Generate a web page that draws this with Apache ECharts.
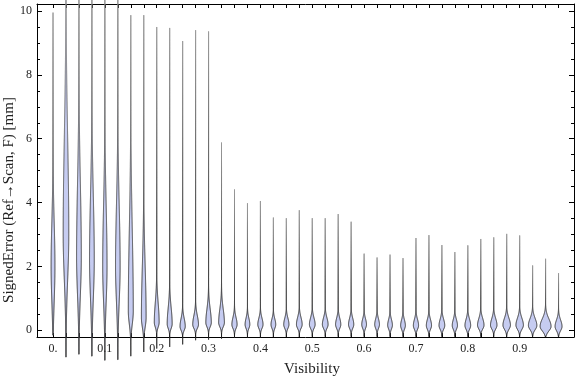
<!DOCTYPE html>
<html>
<head>
<meta charset="utf-8">
<script src="https://cdn.jsdelivr.net/npm/echarts@6/dist/echarts.min.js"></script>
<style>
html,body{margin:0;padding:0;background:#fff;}
#chart{width:576px;height:377px;}
</style>
</head>
<body>
<div id="chart"></div>
<script>
// ---- data ----
const visibility = [0, 0.025, 0.05, 0.075, 0.1, 0.125, 0.15, 0.175, 0.2, 0.225,
  0.25, 0.275, 0.3, 0.325, 0.35, 0.375, 0.4, 0.425, 0.45, 0.475,
  0.5, 0.525, 0.55, 0.575, 0.6, 0.625, 0.65, 0.675, 0.7, 0.725,
  0.75, 0.775, 0.8, 0.825, 0.85, 0.875, 0.9, 0.925, 0.95, 0.975];
// minimum signed error of each distribution
const lowVals = [-0.15, -0.84, -0.75, -0.81, -0.94, -0.92, -0.81, -0.68, -0.57, -0.52,
  -0.44, -0.31, -0.29, -0.26, -0.23, -0.22, -0.22, -0.21, -0.21, -0.21,
  -0.2, -0.2, -0.2, -0.2, -0.2, -0.2, -0.2, -0.2, -0.2, -0.2,
  -0.2, -0.2, -0.2, -0.2, -0.2, -0.2, -0.2, -0.2, -0.2, -0.2];
// maximum signed error of each distribution
const highVals = [9.95, 11.5, 11.5, 11.5, 11.5, 11.5, 9.87, 9.87, 9.5, 9.47,
  9.06, 9.4, 9.36, 5.88, 4.41, 3.98, 4.05, 3.53, 3.51, 3.76,
  3.51, 3.51, 3.64, 3.4, 2.4, 2.28, 2.37, 2.26, 2.89, 2.98,
  2.67, 2.45, 2.66, 2.86, 2.91, 3.02, 2.97, 2.03, 2.24, 1.79];
// location of the density peak
const modeVals = [2.0, 3.0, 2.3, 2.2, 2.0, 2.0, 0.6, 0.4, 0.25, 0.2,
  0.12, 0.18, 0.24, 0.24, 0.18, 0.18, 0.18, 0.18, 0.18, 0.18,
  0.18, 0.18, 0.18, 0.18, 0.18, 0.18, 0.16, 0.15, 0.15, 0.15,
  0.15, 0.15, 0.15, 0.16, 0.16, 0.16, 0.16, 0.15, 0.12, 0.12];
// relative peak density (1 = widest possible violin)
const peakVals = [0.31, 0.45, 0.38, 0.38, 0.35, 0.37, 0.40, 0.38, 0.39, 0.40,
  0.42, 0.46, 0.44, 0.46, 0.42, 0.38, 0.42, 0.38, 0.42, 0.46,
  0.46, 0.46, 0.42, 0.42, 0.38, 0.38, 0.38, 0.38, 0.42, 0.42,
  0.46, 0.42, 0.46, 0.52, 0.52, 0.6, 0.6, 0.68, 0.88, 0.56];
// spread of the density below / above the peak
const lowerSpread = [1.1, 1.4, 1.2, 1.2, 1.1, 1.1, 0.4, 0.3, 0.15, 0.14,
  0.12, 0.12, 0.13, 0.13, 0.12, 0.12, 0.12, 0.12, 0.12, 0.12,
  0.12, 0.12, 0.12, 0.12, 0.12, 0.12, 0.12, 0.12, 0.12, 0.12,
  0.12, 0.12, 0.12, 0.12, 0.12, 0.13, 0.13, 0.13, 0.14, 0.13];
const upperSpread = [1.4, 3.0, 2.3, 2.0, 1.9, 1.9, 2.5, 1.6, 0.6, 0.5,
  0.25, 0.28, 0.42, 0.42, 0.22, 0.2, 0.2, 0.18, 0.2, 0.22,
  0.21, 0.21, 0.2, 0.2, 0.18, 0.18, 0.18, 0.18, 0.19, 0.19,
  0.2, 0.19, 0.2, 0.21, 0.21, 0.22, 0.22, 0.22, 0.24, 0.2];

const xTickValues = [0, 0.1, 0.2, 0.3, 0.4, 0.5, 0.6, 0.7, 0.8, 0.9];
const xTickLabels = ['0.', '0.1', '0.2', '0.3', '0.4', '0.5', '0.6', '0.7', '0.8', '0.9'];
const yTickValues = [0, 2, 4, 6, 8, 10];
const yTickLabels = ['0', '2', '4', '6', '8', '10'];
const yMinorTicks = [0, 0.5, 1, 1.5, 2, 2.5, 3, 3.5, 4, 4.5, 5, 5.5, 6, 6.5, 7, 7.5, 8, 8.5, 9, 9.5, 10];

// ---- layout / style ----
const X_MIN = -0.0309, X_MAX = 1.0048;
const Y_MIN = -0.21, Y_MAX = 10.22;
const MAX_HALF_WIDTH = 0.0120; // x-units
const FONT = '"Liberation Serif", "DejaVu Serif", serif';

const seriesData = visibility.map((v, i) => [v, lowVals[i], highVals[i], modeVals[i], peakVals[i], lowerSpread[i], upperSpread[i]]);

function renderViolin(params, api) {
  const x = api.value(0), lo = api.value(1), hi = api.value(2), m = api.value(3);
  const pk = api.value(4), sL = api.value(5), sU = api.value(6);
  const pxPerUnit = api.size([1, 0])[0];
  const n = Math.ceil((hi - lo) / 0.01);
  const right = [], left = [];
  for (let i = 0; i <= n; i++) {
    const y = lo + (hi - lo) * i / n;
    const s = y < m ? sL : sU;
    const d = Math.exp(-0.5 * Math.pow((y - m) / s, 2));
    const hw = pk * MAX_HALF_WIDTH * d * pxPerUnit;
    const p = api.coord([x, y]);
    right.push([p[0] + hw, p[1]]);
    left.push([p[0] - hw, p[1]]);
  }
  const points = right.concat(left.reverse());
  return {
    type: 'polygon',
    shape: { points: points },
    style: {
      fill: '#c6ccf1',
      stroke: { type: 'linear', x: 0, y: 0, x2: 0, y2: 1,
        colorStops: [{ offset: 0, color: '#8e8e8e' }, { offset: 0.6, color: '#3c3c3c' }, { offset: 1, color: '#222' }] },
      lineWidth: 1
    }
  };
}

const chart = echarts.init(document.getElementById('chart'), null, { renderer: 'canvas' });

const allXTicks = visibility.slice();

function baseX(extra) {
  return Object.assign({
    type: 'value', min: X_MIN, max: X_MAX,
    splitLine: { show: false },
    axisLine: { show: true, onZero: false, lineStyle: { color: '#000', width: 1 } },
    axisTick: { show: true, inside: true, length: 4, customValues: allXTicks, lineStyle: { color: '#000', width: 1 } },
    axisLabel: { show: false }
  }, extra);
}
function baseY(extra) {
  return Object.assign({
    type: 'value', min: Y_MIN, max: Y_MAX,
    splitLine: { show: false },
    axisLine: { show: true, onZero: false, lineStyle: { color: '#000', width: 1 } },
    axisTick: { show: true, inside: true, length: 5, customValues: yTickValues, lineStyle: { color: '#000', width: 1 } },
    axisLabel: { show: false }
  }, extra);
}
const minorTicks = { show: true, inside: true, length: 3, customValues: yMinorTicks, lineStyle: { color: '#000', width: 1 } };

chart.setOption({
  animation: false,
  backgroundColor: '#fff',
  grid: { left: 37, right: 2, top: 4, bottom: 40, containLabel: false },
  xAxis: [
    baseX({ position: 'bottom',
      axisLabel: { show: true, customValues: xTickValues, margin: 6, fontSize: 12, fontFamily: FONT, color: '#222',
        formatter: function (v) { const k = Math.round(v * 10); return xTickLabels[k] !== undefined ? xTickLabels[k] : ''; } } }),
    baseX({ position: 'top' })
  ],
  yAxis: [
    baseY({ position: 'left',
      axisLabel: { show: true, customValues: yTickValues, margin: 5, fontSize: 12, fontFamily: FONT, color: '#222',
        formatter: function (v) { const k = Math.round(v / 2); return yTickLabels[k] !== undefined ? yTickLabels[k] : ''; } } }),
    baseY({ position: 'left', axisLine: { show: false, onZero: false }, axisTick: minorTicks }),
    baseY({ position: 'right' }),
    baseY({ position: 'right', axisLine: { show: false, onZero: false }, axisTick: minorTicks })
  ],
  series: [{
    type: 'custom',
    xAxisIndex: 0, yAxisIndex: 0,
    clip: false,
    renderItem: renderViolin,
    data: seriesData
  }],
  graphic: [
    { type: 'text', x: 312, y: 369, style: { text: 'Visibility', font: '15px ' + FONT, fill: '#222', textAlign: 'center', textVerticalAlign: 'middle' } },
    { type: 'text', x: 9, y: 200, rotation: Math.PI / 2, style: { text: 'SignedError (Ref\u2192Scan, F) [mm]', font: '15px ' + FONT, fill: '#222', textAlign: 'center', textVerticalAlign: 'middle' } }
  ]
});
</script>
</body>
</html>
